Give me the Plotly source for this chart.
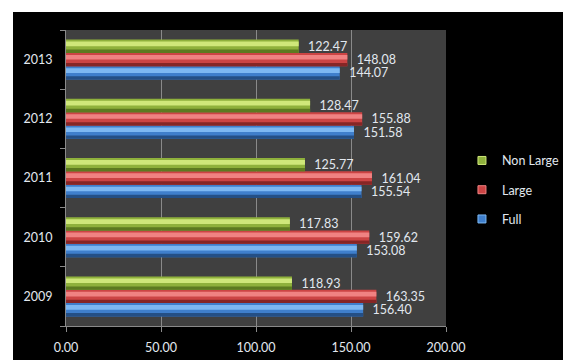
import plotly.graph_objects as go

# Yearly index values per segment
years = ["2009", "2010", "2011", "2012", "2013"]
full = [156.40, 153.08, 155.54, 151.58, 144.07]
large = [163.35, 159.62, 161.04, 155.88, 148.08]
non_large = [118.93, 117.83, 125.77, 128.47, 122.47]

series = [
    # name, values, base colour, light highlight, dark shade
    ("Full", full, "#3f7fcc", "#7db8f2", "#244f85"),
    ("Large", large, "#cc4444", "#f08282", "#862626"),
    ("Non Large", non_large, "#8fb13c", "#cfe77a", "#5d7a20"),
]

FONT = "Lato"
TXT = "#e2e8ef"
GRID = "#8a8a8a"
BAR_W = 0.225
START = -0.3375

fig = go.Figure()

for k, (name, vals, base, light, dark) in enumerate(series):
    off = START + k * BAR_W
    # main bar with value label
    fig.add_trace(go.Bar(
        y=years, x=vals, orientation="h", name=name,
        width=BAR_W, offset=off,
        marker=dict(color=base, line=dict(width=0)),
        text=[f"\u00a0\u00a0{v:.2f}" for v in vals],
        textposition="outside", constraintext="none", cliponaxis=False,
        textfont=dict(family=FONT, size=12.5, color=TXT),
        showlegend=False, hoverinfo="x+name",
    ))
    # dark lower edge for a bevelled look
    fig.add_trace(go.Bar(
        y=years, x=vals, orientation="h",
        width=BAR_W * 0.25, offset=off,
        marker=dict(color=dark, line=dict(width=0)),
        showlegend=False, hoverinfo="skip",
    ))
    # light upper highlight
    fig.add_trace(go.Bar(
        y=years, x=vals, orientation="h",
        width=BAR_W * 0.35, offset=off + BAR_W * 0.5,
        marker=dict(color=light, line=dict(width=0)),
        showlegend=False, hoverinfo="skip",
    ))
    # legend key (top-most bar listed first)
    fig.add_trace(go.Scatter(
        x=[None], y=[None], mode="markers", name=name, legendgroup=name,
        legendrank=100 - k,
        marker=dict(symbol="square", size=8, color=base,
                    line=dict(color=light, width=1)),
        showlegend=True,
    ))

fig.update_layout(
    width=563, height=360,
    barmode="overlay",
    paper_bgcolor="#000000",
    plot_bgcolor="#404040",
    margin=dict(l=66, r=117, t=30, b=34, autoexpand=False),
    font=dict(family=FONT, size=12.5, color=TXT),
    showlegend=True,
    legend=dict(
        traceorder="grouped", tracegroupgap=10,
        x=1.042, xanchor="left", y=0.46, yanchor="middle",
        bgcolor="rgba(0,0,0,0)", itemwidth=30,
        font=dict(family=FONT, size=12.5, color=TXT),
    ),
    xaxis=dict(
        range=[0, 200], dtick=50, tickformat=".2f",
        showgrid=True, gridcolor=GRID, gridwidth=1,
        showline=True, linecolor=GRID, linewidth=1,
        ticks="outside", ticklen=5, tickcolor=GRID,
        ticklabelstandoff=5, zeroline=False,
        tickfont=dict(family=FONT, size=12.5, color=TXT),
    ),
    yaxis=dict(
        categoryorder="array", categoryarray=years,
        showgrid=False,
        showline=True, linecolor=GRID, linewidth=1,
        ticks="outside", ticklen=5, tickcolor=GRID, tickson="boundaries",
        ticklabelstandoff=10,
        tickfont=dict(family=FONT, size=12.5, color=TXT),
    ),
    shapes=[
        # white border strips along top and left edges
        dict(type="rect", xref="paper", yref="paper", layer="above",
             x0=(0 - 66) / 380, x1=(563 - 66) / 380,
             y0=(326 - 12) / 296, y1=(326 - 0) / 296,
             fillcolor="#ffffff", line=dict(width=0)),
        dict(type="rect", xref="paper", yref="paper", layer="above",
             x0=(0 - 66) / 380, x1=(13 - 66) / 380,
             y0=(326 - 360) / 296, y1=(326 - 0) / 296,
             fillcolor="#ffffff", line=dict(width=0)),
    ],
)

fig.write_html("out.html")
